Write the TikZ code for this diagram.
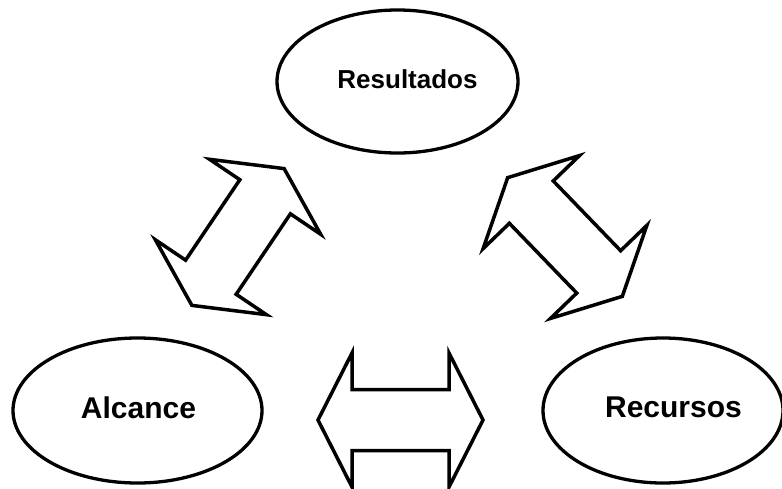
\documentclass[tikz,border=0pt]{standalone}
\usepackage{fontspec}
\setmainfont{Liberation Sans}
\usetikzlibrary{shapes.geometric}
\tikzset{
  bubble/.style={draw=black, line width=3.3pt, ellipse, inner sep=0pt, fill=white},
  caption/.style={font=\bfseries\fontsize{30}{36}\selectfont, inner sep=0pt, anchor=base},
  swap/.style={draw=black, line width=3.5pt, fill=white, line join=miter},
  % block double arrow, 165 long, shaft 61 wide, heads 134 wide and 34 deep
  pics/dblarrow/.style={code={
    \draw[swap] (-82.5,0) -- (-48.5,67) -- (-48.5,30.5) -- (48.5,30.5)
      -- (48.5,67) -- (82.5,0) -- (48.5,-67) -- (48.5,-30.5)
      -- (-48.5,-30.5) -- (-48.5,-67) -- cycle;
  }}
}
\begin{document}
\begin{tikzpicture}[x=1pt,y=-1pt]
\useasboundingbox (0,0) rectangle (782,488);

% the three ellipses
\node[bubble, minimum width=241pt, minimum height=143pt] (res) at (397.5,81.5) {};
\node[bubble, minimum width=249pt, minimum height=145pt] (alc) at (137.5,410.5) {};
\node[bubble, minimum width=240pt, minimum height=145pt] (rec) at (663,410.5) {};

\node[caption, font=\bfseries\fontsize{26}{30}\selectfont] (res-t) at (407.5,88) {Resultados};
\node[caption] (alc-t) at (138.5,418) {Alcance};
\node[caption] (rec-t) at (673.5,417) {Recursos};

% centres of the double arrows between them
\coordinate (arrL) at (238,237);
\coordinate (arrR) at (565,237);
\coordinate (arrB) at (400.5,420);

\pic[rotate=56] at (arrL) {dblarrow};
\pic[rotate=134] at (arrR) {dblarrow};
\pic at (arrB) {dblarrow};
\end{tikzpicture}
\end{document}
